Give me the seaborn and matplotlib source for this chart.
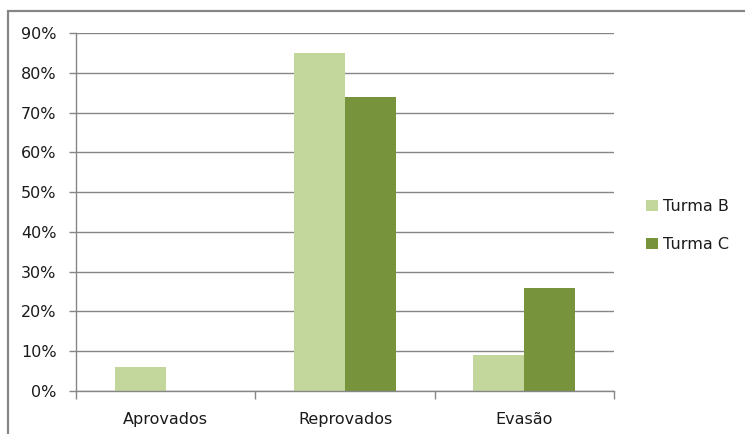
import matplotlib
matplotlib.use("Agg")
import matplotlib.pyplot as plt
from matplotlib.patches import Rectangle
from matplotlib.ticker import FixedLocator, FuncFormatter
import seaborn as sns
import pandas as pd

categories = ["Aprovados", "Reprovados", "Evasão"]
turma_b = [6, 85, 9]
turma_c = [0, 74, 26]
series_names = ["Turma B", "Turma C"]
y_ticks = [0, 10, 20, 30, 40, 50, 60, 70, 80, 90]

df = pd.DataFrame({
    "categoria": categories * 2,
    "valor": turma_b + turma_c,
    "turma": [series_names[0]] * 3 + [series_names[1]] * 3,
})

sns.set_theme(style="white")
plt.rcParams["font.family"] = ["DejaVu Sans"]

grid_color = "#868686"
text_color = "#1a1a1a"
fs = 11.5

fig = plt.figure(figsize=(7.45, 4.34), dpi=100)
ax = fig.add_axes([76 / 745, 43 / 434, 538 / 745, 358 / 434])

sns.barplot(
    data=df, x="categoria", y="valor", hue="turma",
    palette=["#C3D69B", "#77933C"], saturation=1, width=0.57, gap=0,
    edgecolor="none", linewidth=0, ax=ax, legend=True,
)

ax.set_xlim(-0.5, 2.5)
ax.set_ylim(0, 90)
ax.yaxis.set_major_locator(FixedLocator(y_ticks))
ax.yaxis.set_major_formatter(FuncFormatter(lambda v, p: f"{int(v)}%"))
ax.grid(axis="y", color=grid_color, linewidth=1.0)
ax.set_axisbelow(True)
ax.set_xlabel("")
ax.set_ylabel("")

for side in ["top", "right"]:
    ax.spines[side].set_visible(False)
for side in ["left", "bottom"]:
    ax.spines[side].set_color(grid_color)
    ax.spines[side].set_linewidth(1.0)

ax.tick_params(axis="y", which="both", left=True, length=5, width=1.0,
               color=grid_color, labelsize=fs, labelcolor=text_color, pad=9)
ax.tick_params(axis="x", which="major", bottom=False, labelsize=fs,
               labelcolor=text_color, pad=9)
# category boundary ticks on the x axis
ax.set_xticks([-0.5, 0.5, 1.5, 2.5], minor=True)
ax.tick_params(axis="x", which="minor", bottom=True, length=6, width=1.0,
               color=grid_color)

leg = ax.legend(
    loc="center left", bbox_to_anchor=(1.048, 0.462), frameon=False,
    borderaxespad=0, fontsize=fs, handlelength=0.72, handleheight=0.72,
    handletextpad=0.3, labelspacing=1.42,
)
for t in leg.get_texts():
    t.set_color(text_color)

# outer chart border
fig.patches.append(Rectangle((8 / 745, -0.05), 1.1, 1 - 11 / 434 + 0.05,
                             transform=fig.transFigure, fill=False,
                             edgecolor=grid_color, linewidth=1.6, zorder=0))

fig.savefig("out.png", dpi=100)
